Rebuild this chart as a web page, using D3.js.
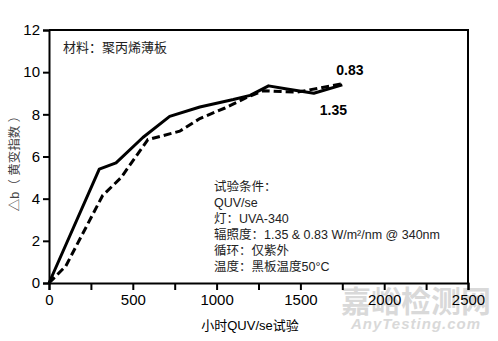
<!DOCTYPE html>
<html>
<head>
<meta charset="utf-8">
<script src="https://cdn.jsdelivr.net/npm/d3@7"></script>
<style>
  body { margin: 0; background: #fff; }
  svg { display: block; font-family: "Liberation Sans", Arial, "Noto Sans CJK SC", sans-serif; }
</style>
</head>
<body>
<div id="chart"></div>
<script>
// solid line: 1.35 W/m2/nm
const hours135 = [0, 300, 400, 560, 720, 900, 1100, 1200, 1310, 1420, 1580, 1750];
const db135 = [0, 5.4, 5.7, 6.9, 7.9, 8.35, 8.7, 8.9, 9.35, 9.2, 9.0, 9.4];
// dashed line: 0.83 W/m2/nm
const hours083 = [0, 100, 320, 430, 590, 780, 900, 1050, 1180, 1280, 1480, 1750];
const db083 = [0, 0.8, 4.15, 5.0, 6.8, 7.2, 7.8, 8.3, 8.8, 9.12, 9.05, 9.45];

const xTicks = [0, 500, 1000, 1500, 2000, 2500];
const yTicks = [0, 2, 4, 6, 8, 10, 12];
const conditions = [
  "试验条件：",
  "QUV/se",
  "灯：UVA-340",
  "辐照度：1.35 & 0.83 W/m²/nm @ 340nm",
  "循环：仅紫外",
  "温度：黑板温度50°C"
];

const width = 498, height = 341;
const margin = { top: 30, right: 30, bottom: 58, left: 49 };

const svg = d3.select("#chart").append("svg")
  .attr("width", width)
  .attr("height", height);

const x = d3.scaleLinear().domain([0, 2500]).range([margin.left, width - margin.right]);
const y = d3.scaleLinear().domain([0, 12]).range([height - margin.bottom, margin.top]);

// watermark (behind everything)
svg.append("text")
  .attr("x", 416).attr("y", 312)
  .attr("text-anchor", "middle")
  .style("font-family", "'Noto Sans CJK SC'")
  .style("font-size", "30px")
  .style("font-weight", "bold")
  .style("fill", "#d9d9d9")
  .text("嘉峪检测网");
svg.append("text")
  .attr("x", 416).attr("y", 329)
  .attr("text-anchor", "middle")
  .style("font-size", "15px")
  .style("font-style", "italic")
  .style("font-weight", "bold")
  .style("letter-spacing", "1px")
  .style("fill", "#d9d9d9")
  .text("AnyTesting.com");

// frame top + right
svg.append("path")
  .attr("d", `M${x(0)},${y(12)}H${x(2500)}V${y(0)}`)
  .attr("fill", "none")
  .attr("stroke", "#000")
  .attr("stroke-width", 2);

const xAxis = svg.append("g")
  .attr("transform", `translate(0,${y(0)})`)
  .call(d3.axisBottom(x).tickValues(d3.range(0, 2501, 250)).tickSize(7).tickPadding(4)
    .tickFormat(d => xTicks.includes(d) ? d : ""));
const yAxis = svg.append("g")
  .attr("transform", `translate(${x(0)},0)`)
  .call(d3.axisLeft(y).tickValues(yTicks).tickSize(6).tickPadding(3));

[xAxis, yAxis].forEach(g => {
  g.select(".domain").attr("stroke-width", 2);
  g.selectAll(".tick line").attr("stroke-width", 2);
  g.selectAll("text").style("font-size", "15px").style("fill", "#000");
});

const line = d3.line().x(d => x(d[0])).y(d => y(d[1]));

svg.append("path")
  .datum(d3.zip(hours083, db083))
  .attr("d", line)
  .attr("fill", "none")
  .attr("stroke", "#000")
  .attr("stroke-width", 3)
  .attr("stroke-dasharray", "8,4");

svg.append("path")
  .datum(d3.zip(hours135, db135))
  .attr("d", line)
  .attr("fill", "none")
  .attr("stroke", "#000")
  .attr("stroke-width", 3)
  .attr("stroke-linejoin", "round");

// series labels
svg.append("text")
  .attr("x", x(1750) - 6).attr("y", y(9.45) - 9)
  .style("font-size", "14px").style("font-weight", "bold")
  .text("0.83");
svg.append("text")
  .attr("x", x(1580) + 6).attr("y", y(9.0) + 22)
  .style("font-size", "14px").style("font-weight", "bold")
  .text("1.35");

// material note
svg.append("text")
  .attr("x", 63).attr("y", 52)
  .style("font-size", "13px").style("fill", "#222")
  .text("材料：聚丙烯薄板");

// conditions block
svg.append("g").selectAll("text")
  .data(conditions)
  .join("text")
  .attr("x", 214)
  .attr("y", (d, i) => 191 + i * 16)
  .style("font-size", "12.5px")
  .style("fill", "#222")
  .text(d => d);

// axis titles
svg.append("text")
  .attr("x", 250).attr("y", 330)
  .attr("text-anchor", "middle")
  .style("font-size", "13px")
  .text("小时QUV/se试验");

svg.append("text")
  .attr("transform", `translate(19,${y(6) + 4}) rotate(-90)`)
  .attr("text-anchor", "middle")
  .style("font-size", "12.5px")
  .style("fill", "#444")
  .text("△b（ 黄变指数 ）");
</script>
</body>
</html>
